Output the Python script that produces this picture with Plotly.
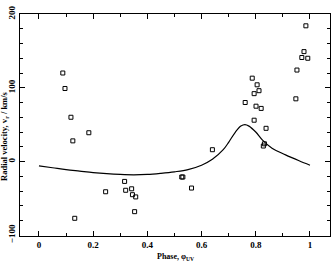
import plotly.graph_objects as go

# observed radial velocities
phase_obs = [0.088, 0.096, 0.118, 0.125, 0.132, 0.184, 0.246, 0.316, 0.320, 0.342,
             0.345, 0.353, 0.357, 0.527, 0.531, 0.563, 0.640, 0.761, 0.787, 0.794,
             0.794, 0.801, 0.805, 0.812, 0.820, 0.828, 0.832, 0.838, 0.948, 0.952,
             0.970, 0.978, 0.985, 0.992]
vel_obs = [120, 99, 60, 28, -77, 39, -41, -27, -39, -37,
           -45, -68, -48, -21, -21, -36, 16, 80, 113, 92,
           56, 75, 104, 96, 72, 21, 24, 45, 85, 124,
           141, 149, 184, 140]

# model curve
phase_model = [0.0, 0.05, 0.1, 0.15, 0.2, 0.25, 0.3, 0.35, 0.4, 0.45, 0.5, 0.55,
               0.6, 0.64, 0.68, 0.7, 0.725, 0.745, 0.76, 0.775, 0.8, 0.825, 0.86,
               0.91, 0.96, 1.0]
vel_model = [-6, -8.5, -11, -13, -15, -16.5, -17.5, -18, -17.5, -16, -14, -11,
             -5, 3, 16, 26, 40, 48, 50, 48, 40, 29, 18, 9, 1, -5]

font_family = "Liberation Serif"

fig = go.Figure()
fig.add_trace(go.Scatter(x=phase_model, y=vel_model, mode="lines",
                         line=dict(color="black", width=1.2, shape="spline"),
                         showlegend=False))
fig.add_trace(go.Scatter(x=phase_obs, y=vel_obs, mode="markers",
                         marker=dict(symbol="square-open", size=4, color="black",
                                     line=dict(width=1, color="black")),
                         showlegend=False))

axis_common = dict(showline=True, linecolor="black", linewidth=1.2, mirror="allticks",
                   ticks="inside", ticklen=5, tickwidth=1, tickcolor="black",
                   showgrid=False, zeroline=False,
                   tickfont=dict(family=font_family, size=9, color="black"))

fig.update_xaxes(range=[-0.07, 1.074], tickvals=[0, 0.2, 0.4, 0.6, 0.8, 1],
                 ticktext=["<b>0</b>", "<b>0.2</b>", "<b>0.4</b>", "<b>0.6</b>", "<b>0.8</b>", "<b>1</b>"],
                 minor=dict(dtick=0.1, tick0=0, ticks="inside", ticklen=3, tickcolor="black"),
                 **axis_common)
fig.update_yaxes(range=[-101, 200], tickvals=[-100, 0, 100, 200],
                 ticktext=["<b>−100</b>", "<b>0</b>", "<b>100</b>", "<b>200</b>"],
                 tickangle=-90,
                 minor=dict(dtick=20, tick0=0, ticks="inside", ticklen=3, tickcolor="black"),
                 **axis_common)

fig.add_annotation(text="<b>Phase, φ<sub>UV</sub></b>", x=0.5, y=-0.062, xref="paper", yref="paper",
                   xanchor="center", yanchor="top", showarrow=False,
                   font=dict(family=font_family, size=8, color="black"))
fig.add_annotation(text="<b>Radial velocity, v<sub>r</sub> / km/s</b>", x=-0.052, y=0.45, xref="paper", yref="paper",
                   xanchor="center", yanchor="middle", textangle=-90, showarrow=False,
                   font=dict(family=font_family, size=8.5, color="black"))

fig.update_layout(width=336, height=265, margin=dict(l=20, r=5, t=10, b=29),
                  plot_bgcolor="white", paper_bgcolor="white")
fig.write_html("out.html")
